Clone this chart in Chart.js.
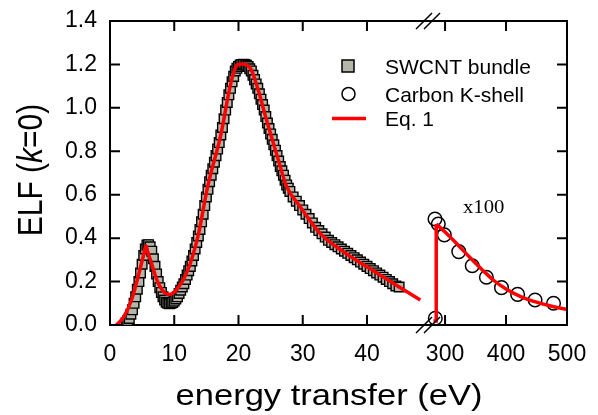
<!DOCTYPE html>
<html>
<head>
<meta charset="utf-8">
<script src="https://cdn.jsdelivr.net/npm/chart.js@4/dist/chart.umd.min.js"></script>
<style>
  html, body { margin: 0; padding: 0; background: #fff; }
  #wrap { width: 598px; height: 415px; }
</style>
</head>
<body>
<div id="wrap"><canvas id="elf-chart" width="598" height="415"></canvas></div>
<script>
// SWCNT bundle (squares), energy in eV
const squareEnergy = [2.5, 2.75, 3.0, 3.25, 3.5, 3.75, 4.0, 4.25, 4.5, 4.75, 5.0, 5.25, 5.5, 5.75,
  6.0, 6.25, 6.5, 6.75, 7.0, 7.25, 7.5, 7.75, 8.0, 8.25, 8.5, 8.75, 9.0, 9.25, 9.5, 9.75,
  10.0, 10.25, 10.5, 10.75, 11.0, 11.25, 11.5, 11.75, 12.0, 12.25, 12.5, 12.75, 13.0, 13.25, 13.5, 13.75,
  14.0, 14.25, 14.5, 14.75, 15.0, 15.25, 15.5, 15.75, 16.0, 16.25, 16.5, 16.75, 17.0, 17.25, 17.5, 17.75,
  18.0, 18.25, 18.5, 18.75, 19.0, 19.25, 19.5, 19.75, 20.0, 20.25, 20.5, 20.75, 21.0, 21.25, 21.5, 21.75,
  22.0, 22.25, 22.5, 22.75, 23.0, 23.25, 23.5, 23.75, 24.0, 24.25, 24.5, 24.75, 25.0, 25.25, 25.5, 25.75,
  26.0, 26.25, 26.5, 26.75, 27.0, 27.25, 27.5, 27.75,
  28.0, 28.5, 29.0, 29.5, 30.0, 30.5, 31.0, 31.5, 32.0, 32.5, 33.0, 33.5,
  34.0, 34.5, 35.0, 35.5, 36.0, 36.5, 37.0, 37.5, 38.0, 38.5, 39.0, 39.5, 40.0, 40.5, 41.0, 41.5,
  42.0, 42.5, 43.0, 43.5, 44.0, 44.5, 45.0];
const squareElf = [0.010, 0.020, 0.030, 0.050, 0.070, 0.100, 0.130, 0.165, 0.200, 0.240, 0.280, 0.320, 0.350, 0.368,
  0.370, 0.360, 0.340, 0.305, 0.270, 0.235, 0.200, 0.172, 0.150, 0.130, 0.115, 0.105, 0.100, 0.098, 0.100, 0.104,
  0.110, 0.120, 0.130, 0.145, 0.160, 0.175, 0.190, 0.210, 0.230, 0.250, 0.270, 0.295, 0.320, 0.350, 0.380, 0.410,
  0.440, 0.475, 0.510, 0.550, 0.590, 0.625, 0.660, 0.690, 0.720, 0.750, 0.780, 0.810, 0.840, 0.875, 0.910, 0.950,
  0.990, 1.025, 1.060, 1.090, 1.120, 1.145, 1.170, 1.182, 1.190, 1.197, 1.200, 1.201, 1.200, 1.196, 1.190, 1.180,
  1.170, 1.150, 1.130, 1.110, 1.090, 1.065, 1.040, 1.015, 0.990, 0.960, 0.930, 0.905, 0.880, 0.855, 0.830, 0.805,
  0.780, 0.755, 0.730, 0.710, 0.690, 0.667, 0.645, 0.630,
  0.615, 0.59, 0.57, 0.55, 0.53, 0.51, 0.49, 0.47, 0.45, 0.435, 0.42, 0.405,
  0.39, 0.38, 0.37, 0.36, 0.35, 0.34, 0.33, 0.32, 0.31, 0.30, 0.29, 0.28, 0.27, 0.26, 0.25, 0.24,
  0.23, 0.22, 0.21, 0.20, 0.19, 0.18, 0.175];

// Carbon K-shell (circles, x100)
const shellEnergy = [283.5, 288.9, 298.8, 322.5, 344.6, 367.8, 392.6, 419, 447.6, 477.9, 284];
const shellElf = [0.488, 0.465, 0.415, 0.338, 0.273, 0.220, 0.172, 0.141, 0.115, 0.100, 0.031];

// Eq. 1 curve, low-energy part
const fitLowEnergy = [1.0, 2.2, 3.4, 4.7, 5.2, 5.6, 5.9, 6.4, 7.4, 8.6, 9.3, 10.9, 12.4, 13.7, 15.2,
  17.3, 18.8, 19.8, 20.6, 21.9, 22.9, 24.5, 26.2, 27.5, 29.6, 32.7, 36.3, 40.4, 44.5, 48.3];
const fitLowElf = [0.0, 0.04, 0.12, 0.26, 0.32, 0.365, 0.335, 0.29, 0.2, 0.146, 0.141, 0.184, 0.276, 0.41, 0.637,
  0.883, 1.113, 1.198, 1.202, 1.18, 1.098, 0.93, 0.76, 0.637, 0.545, 0.422, 0.338, 0.261, 0.184, 0.115];

// Eq. 1 curve, K edge and tail
const fitEdgeEnergy = [281, 285.3, 285.5];
const fitEdgeElf = [0.018, 0.018, 0.465];
const fitHighEnergy = [285.5, 300, 320, 340, 360, 380, 400, 425, 450, 475, 500];
const fitHighElf = [0.465, 0.428, 0.372, 0.313, 0.257, 0.205, 0.166, 0.13, 0.105, 0.086, 0.071];

const tickEnergies = [0, 10, 20, 30, 40, 300, 400, 500];
const tickLabels = ['0', '10', '20', '30', '40', '300', '400', '500'];
const legendOrder = ['square', 'circle', 'line'];

// broken x axis: low part in eV, high part compressed after the break
const HIGH_U0 = 52.15;
const HIGH_SCALE = 0.0949;
const X_MAX = HIGH_U0 + 200 * HIGH_SCALE;
const BREAK_U = 49.5;
function toAxis(e) {
  return e < 100 ? e : HIGH_U0 + (e - 300) * HIGH_SCALE;
}
function points(xs, ys) {
  return xs.map((e, i) => ({ x: toAxis(e), y: ys[i] }));
}

const FONT = '"Liberation Sans", Arial, sans-serif';
const RED = '#ff0000';
const SQUARE_FILL = '#b6b6a8';

const framePlugin = {
  id: 'frame',
  afterDraw(chart) {
    const { ctx, chartArea: a, scales } = chart;
    ctx.save();
    ctx.strokeStyle = '#000';
    ctx.lineWidth = 2;
    // top and right frame
    ctx.beginPath();
    ctx.moveTo(a.left - 1, a.top);
    ctx.lineTo(a.right, a.top);
    ctx.lineTo(a.right, a.bottom + 1);
    ctx.stroke();

    // inward ticks
    ctx.beginPath();
    scales.x.ticks.forEach(t => {
      const px = scales.x.getPixelForValue(t.value);
      ctx.moveTo(px, a.bottom); ctx.lineTo(px, a.bottom - 10);
      ctx.moveTo(px, a.top); ctx.lineTo(px, a.top + 10);
    });
    scales.y.ticks.forEach(t => {
      const py = scales.y.getPixelForValue(t.value);
      ctx.moveTo(a.left, py); ctx.lineTo(a.left + 10, py);
      ctx.moveTo(a.right, py); ctx.lineTo(a.right - 10, py);
    });
    ctx.stroke();

    // axis break marks
    const bx = scales.x.getPixelForValue(BREAK_U);
    ctx.lineWidth = 1.5;
    ctx.beginPath();
    [a.top, a.bottom].forEach(y => {
      [-4, 4].forEach(dx => {
        ctx.moveTo(bx + dx - 8, y + 8);
        ctx.lineTo(bx + dx + 8, y - 8);
      });
    });
    ctx.stroke();

    // axis titles
    ctx.fillStyle = '#000';
    ctx.textBaseline = 'alphabetic';
    ctx.save();
    ctx.translate(329, 405);
    ctx.scale(1.15, 1);
    ctx.font = '30px ' + FONT;
    ctx.textAlign = 'center';
    ctx.fillText('energy transfer (eV)', 0, 0);
    ctx.restore();

    ctx.save();
    ctx.translate(30, 170);
    ctx.scale(1.15, 1);
    ctx.rotate(-Math.PI / 2);
    ctx.textAlign = 'left';
    const parts = [['ELF (', ''], ['k', 'italic '], ['=0)', '']];
    let total = 0;
    parts.forEach(p => { ctx.font = p[1] + '30px ' + FONT; total += ctx.measureText(p[0]).width; });
    let x = -total / 2;
    parts.forEach(p => {
      ctx.font = p[1] + '30px ' + FONT;
      ctx.fillText(p[0], x, 10.7);
      x += ctx.measureText(p[0]).width;
    });
    ctx.restore();

    // x100 note
    ctx.save();
    ctx.translate(463, 213);
    ctx.scale(1.15, 1);
    ctx.font = '18px "Liberation Serif", "Times New Roman", serif';
    ctx.textAlign = 'left';
    ctx.fillText('x100', 0, 0);
    ctx.restore();

    // legend
    const rows = [66, 94, 118.5];
    const items = chart.data.datasets.filter(d => d.legend)
      .sort((p, q) => legendOrder.indexOf(p.legend) - legendOrder.indexOf(q.legend));
    items.forEach((d, i) => {
      const y = rows[i];
      ctx.lineWidth = 1.5;
      ctx.strokeStyle = '#000';
      if (d.legend === 'square') {
        ctx.fillStyle = SQUARE_FILL;
        ctx.fillRect(342, y - 6, 12, 12);
        ctx.strokeRect(342, y - 6, 12, 12);
      } else if (d.legend === 'circle') {
        ctx.beginPath();
        ctx.arc(348.5, y, 6.5, 0, Math.PI * 2);
        ctx.stroke();
      } else {
        ctx.strokeStyle = RED;
        ctx.lineWidth = 3.5;
        ctx.beginPath();
        ctx.moveTo(332, y); ctx.lineTo(366, y);
        ctx.stroke();
      }
      ctx.fillStyle = '#000';
      ctx.font = '21px ' + FONT;
      ctx.textAlign = 'left';
      ctx.fillText(d.label, 385, y + 7.5);
    });
    ctx.restore();
  }
};

const ctx = document.getElementById('elf-chart');

new Chart(ctx, {
  type: 'scatter',
  data: {
    datasets: [
      {
        label: 'Eq. 1',
        legend: 'line',
        data: points(fitLowEnergy, fitLowElf),
        showLine: true,
        borderColor: RED,
        borderWidth: 3.5,
        pointRadius: 0,
        cubicInterpolationMode: 'monotone',
        order: 0
      },
      {
        label: 'Eq. 1 edge',
        data: points(fitEdgeEnergy, fitEdgeElf),
        showLine: true,
        borderColor: RED,
        borderWidth: 3.5,
        pointRadius: 0,
        tension: 0,
        order: 0
      },
      {
        label: 'Eq. 1 tail',
        data: points(fitHighEnergy, fitHighElf),
        showLine: true,
        borderColor: RED,
        borderWidth: 3.5,
        pointRadius: 0,
        cubicInterpolationMode: 'monotone',
        order: 0
      },
      {
        label: 'Carbon K-shell',
        legend: 'circle',
        data: points(shellEnergy, shellElf),
        pointStyle: 'circle',
        pointRadius: 6.8,
        pointBorderWidth: 1.5,
        borderColor: '#000',
        backgroundColor: 'rgba(0,0,0,0)',
        order: 1
      },
      {
        label: 'SWCNT bundle',
        legend: 'square',
        data: points(squareEnergy, squareElf),
        pointStyle: 'rect',
        pointRadius: 6.8,
        pointBorderWidth: 1.4,
        borderColor: '#000',
        backgroundColor: SQUARE_FILL,
        order: 2
      }
    ]
  },
  options: {
    responsive: false,
    animation: false,
    layout: { padding: 0 },
    plugins: {
      legend: { display: false },
      tooltip: { enabled: false }
    },
    scales: {
      x: {
        type: 'linear',
        min: 0,
        max: X_MAX,
        afterBuildTicks: (scale) => {
          scale.ticks = tickEnergies.map(e => ({ value: toAxis(e) }));
        },
        afterFit: (scale) => {
          scale.height = 90;
          scale.paddingLeft = 0;
          scale.paddingRight = 31;
        },
        grid: { display: false, drawTicks: false },
        border: { display: true, color: '#000', width: 2 },
        ticks: {
          autoSkip: false,
          maxRotation: 0,
          padding: 16,
          color: '#000',
          font: { family: FONT, size: 23 },
          callback: (v, i) => tickLabels[i]
        }
      },
      y: {
        min: 0,
        max: 1.4,
        afterFit: (scale) => {
          scale.width = 110;
          scale.paddingTop = 21;
          scale.paddingBottom = 0;
        },
        grid: { display: false, drawTicks: false },
        border: { display: true, color: '#000', width: 2 },
        ticks: {
          stepSize: 0.2,
          padding: 13,
          color: '#000',
          font: { family: FONT, size: 23 },
          callback: (v) => v.toFixed(1)
        }
      }
    }
  },
  plugins: [framePlugin]
});
</script>
</body>
</html>
